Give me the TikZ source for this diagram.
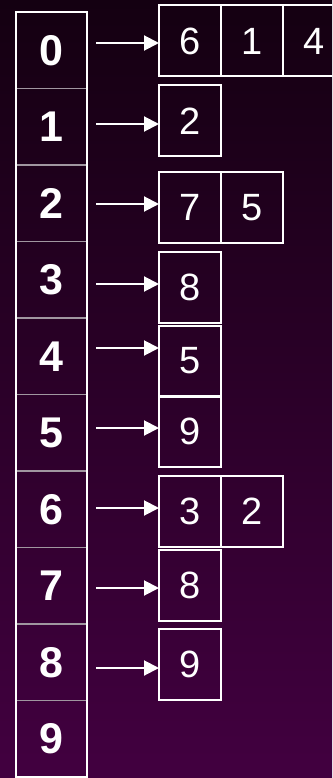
\documentclass[tikz,border=0pt]{standalone}
\usepackage{fontspec}
\setmainfont{Liberation Sans}
\usetikzlibrary{arrows.meta}

\definecolor{bgtop}{RGB}{20,0,17}
\definecolor{bgbottom}{RGB}{66,0,64}
\definecolor{divider}{RGB}{160,150,160}

\begin{document}
\begin{tikzpicture}[x=1pt,y=-1pt]
\tikzset{
  slot/.style={draw=divider,line width=1.6pt,minimum width=71pt,minimum height=76.5pt,
    inner sep=0pt,outer sep=0pt,text=white,font=\fontsize{43}{46}\selectfont\bfseries},
  item/.style={draw=white,line width=2pt,minimum width=62pt,minimum height=71pt,
    inner sep=0pt,outer sep=0pt,text=white,font=\fontsize{38}{42}\selectfont},
  pointer/.style={draw=white,line width=2pt,-{Triangle[length=15pt,width=15pt]}}
}
% background
\clip (0,0) rectangle (332,778);
\fill[top color=bgtop,bottom color=bgbottom] (0,0) rectangle (332,778);
% table column
\node[slot] (s0) at (51.5,50.25) {0};
\node[slot] (s1) at (51.5,126.75) {1};
\node[slot] (s2) at (51.5,203.25) {2};
\node[slot] (s3) at (51.5,279.75) {3};
\node[slot] (s4) at (51.5,356.25) {4};
\node[slot] (s5) at (51.5,432.75) {5};
\node[slot] (s6) at (51.5,509.25) {6};
\node[slot] (s7) at (51.5,585.75) {7};
\node[slot] (s8) at (51.5,662.25) {8};
\node[slot] (s9) at (51.5,738.75) {9};
\draw[white,line width=2pt] (s0.north west) rectangle (s9.south east);
% lists
\node[item] (b0a) at (190,41) {6};
\node[item] (b0b) at (252,41) {1};
\node[item] (b0c) at (314,41) {4};
\node[item] (b1a) at (190,121) {2};
\node[item] (b2a) at (190,207.5) {7};
\node[item] (b2b) at (252,207.5) {5};
\node[item] (b3a) at (190,287) {8};
\node[item] (b4a) at (190,361) {5};
\node[item] (b5a) at (190,431.5) {9};
\node[item] (b6a) at (190,511.5) {3};
\node[item] (b6b) at (252,511.5) {2};
\node[item] (b7a) at (190,585) {8};
\node[item] (b8a) at (190,664.5) {9};
% pointers
\coordinate (p0) at (96,43);
\coordinate (p1) at (96,124);
\coordinate (p2) at (96,204);
\coordinate (p3) at (96,284);
\coordinate (p4) at (96,348);
\coordinate (p5) at (96,428);
\coordinate (p6) at (96,508);
\coordinate (p7) at (96,588);
\coordinate (p8) at (96,668);
\draw[pointer] (p0) -- (p0 -| b0a.west);
\draw[pointer] (p1) -- (p1 -| b1a.west);
\draw[pointer] (p2) -- (p2 -| b2a.west);
\draw[pointer] (p3) -- (p3 -| b3a.west);
\draw[pointer] (p4) -- (p4 -| b4a.west);
\draw[pointer] (p5) -- (p5 -| b5a.west);
\draw[pointer] (p6) -- (p6 -| b6a.west);
\draw[pointer] (p7) -- (p7 -| b7a.west);
\draw[pointer] (p8) -- (p8 -| b8a.west);
\end{tikzpicture}
\end{document}
